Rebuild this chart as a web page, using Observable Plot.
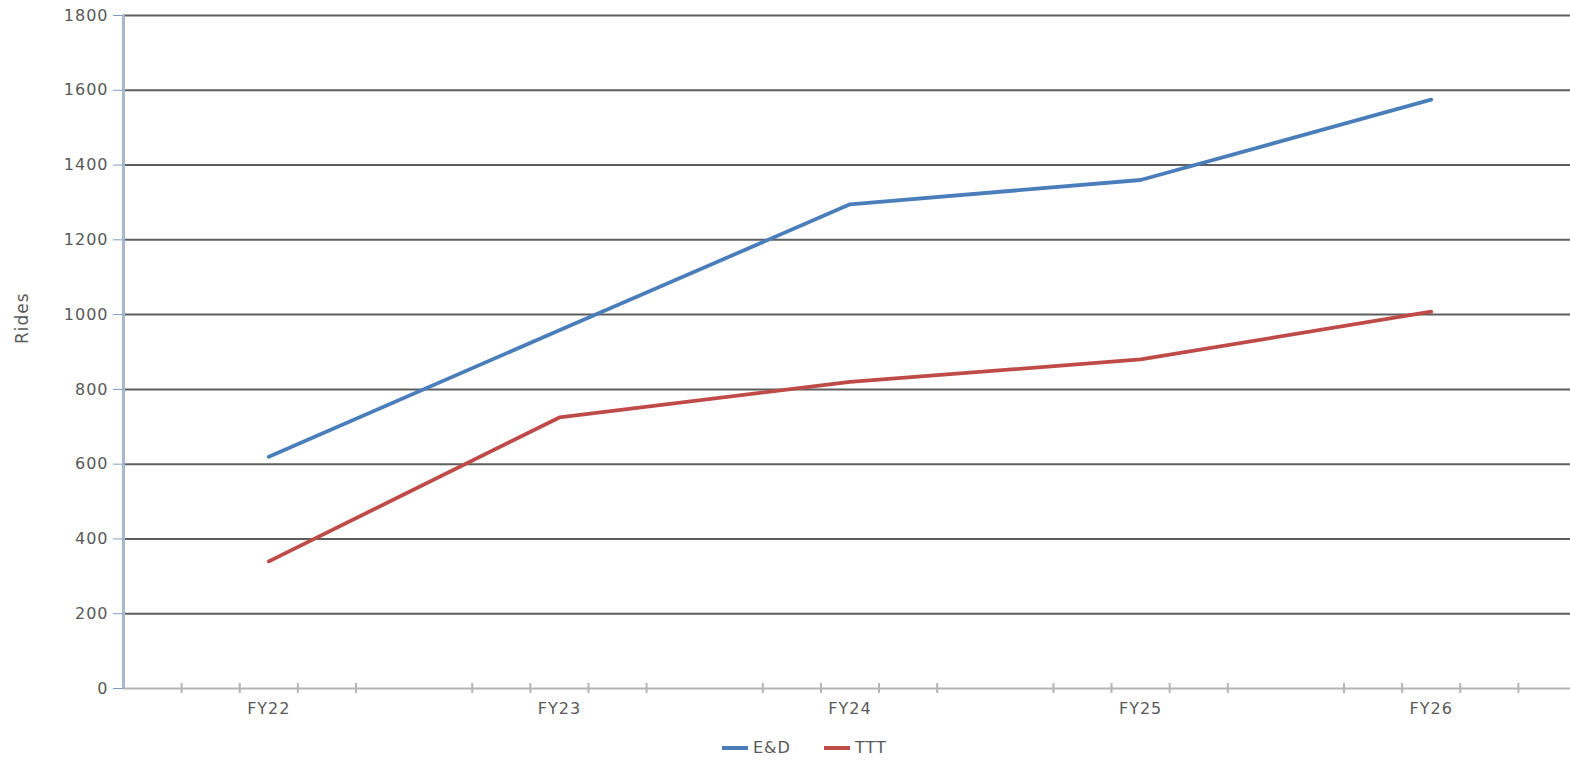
<!DOCTYPE html>
<html>
<head>
<meta charset="utf-8">
<script src="https://cdn.jsdelivr.net/npm/d3@7"></script>
<script src="https://cdn.jsdelivr.net/npm/@observablehq/plot@0.6"></script>
<style>
  body { margin: 0; background: #fff; overflow: hidden; font-family: "DejaVu Sans", sans-serif; }
  #chart { position: relative; width: 1570px; height: 762px; }
  #chart svg { letter-spacing: 1px; }
  .legend { position: absolute; top: 738px; left: 722px; display: flex; align-items: center;
            font-size: 16px; color: #595959; letter-spacing: 1px; }
  .legend .item { display: flex; align-items: center; margin-right: 33px; }
  .legend .sw { display: inline-block; width: 26px; height: 4px; margin-right: 5px; }
</style>
</head>
<body>
<div id="chart"></div>
<script>
// Fiscal years on the x axis
const years = ["FY22", "FY23", "FY24", "FY25", "FY26"];
// Rides per year for each program
const edRides = [620, 958, 1295, 1360, 1575];
const tttRides = [340, 725, 820, 880, 1008];
const seriesNames = ["E&D", "TTT"];
const seriesColors = ["#4a7ebb", "#be4b48"];
// Value axis ticks
const yTicks = [0, 200, 400, 600, 800, 1000, 1200, 1400, 1600, 1800];
// Minor tick positions inside each year's band (fractions of a band)
const minorOffsets = [-0.3, -0.1, 0.1, 0.3];

const rows = [
  ...years.map((year, i) => ({ year, i, value: edRides[i], series: seriesNames[0] })),
  ...years.map((year, i) => ({ year, i, value: tttRides[i], series: seriesNames[1] }))
];
const minorTicks = years.flatMap((_, i) => minorOffsets.map(o => i + o));

const chart = Plot.plot({
  width: 1570,
  height: 730,
  marginTop: 15,
  marginBottom: 42,
  marginLeft: 123,
  marginRight: 0,
  style: { fontFamily: "'DejaVu Sans', sans-serif", fontSize: "16px", color: "#595959", background: "#fff" },
  x: { type: "linear", domain: [-0.5, years.length - 0.5], range: [123, 1576], label: null },
  y: { domain: [0, 1800], label: null },
  color: { domain: seriesNames, range: seriesColors },
  marks: [
    // horizontal gridlines
    Plot.ruleY(yTicks.filter(d => d > 0), { stroke: "#5e5e5e", strokeWidth: 2 }),
    // category axis line and its minor ticks
    Plot.ruleY([0], { stroke: "#b4b4b4", strokeWidth: 2 }),
    Plot.ruleX(minorTicks, { y1: 0, y2: 0, insetTop: -5, insetBottom: -5, stroke: "#b4b4b4", strokeWidth: 2 }),
    // value axis line
    Plot.ruleX([-0.5], { stroke: "#a8b7cb", strokeWidth: 3 }),
    Plot.axisY({ ticks: yTicks, tickFormat: d => String(d), tickSize: 10, tickPadding: 5, fontSize: 16, stroke: "#7d9bc7", label: null }),
    Plot.axisX({ ticks: years.map((_, i) => i), tickFormat: i => years[i], tickSize: 0, tickPadding: 14, fontSize: 16, label: null }),
    Plot.lineY(rows, { x: "i", y: "value", z: "series", stroke: "series", strokeWidth: 3.8 }),
    Plot.text(["Rides"], { frameAnchor: "left", dx: -101, dy: -8, rotate: -90, textAnchor: "start", fontSize: 17, fill: "#595959" })
  ]
});
document.getElementById("chart").appendChild(chart);

// legend below the plot
const legend = document.createElement("div");
legend.className = "legend";
seriesNames.forEach((name, k) => {
  const item = document.createElement("span");
  item.className = "item";
  const sw = document.createElement("span");
  sw.className = "sw";
  sw.style.background = seriesColors[k];
  item.appendChild(sw);
  item.appendChild(document.createTextNode(name));
  legend.appendChild(item);
});
document.getElementById("chart").appendChild(legend);
</script>
</body>
</html>
